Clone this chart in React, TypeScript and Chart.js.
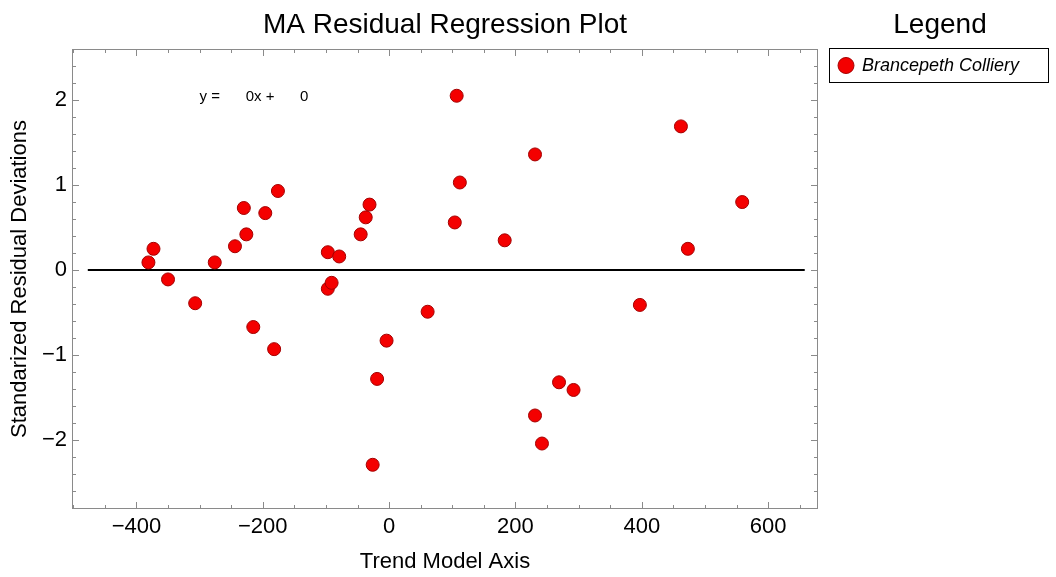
import React, { useEffect, useRef } from "react";
import { Chart, registerables } from "chart.js";

Chart.register(...registerables);

// Trend model axis position of each observation
const trendX = [
  -381, -373, -350, -307, -276, -244, -230, -226, -215, -196, -182, -176,
  -97, -97, -91, -79, -45, -37, -31, -26, -19, -4, 61,
  104, 107, 112, 183, 231, 231, 242, 269, 292, 397, 462, 473, 559,
];

// Standardized residual for each observation
const residualY = [
  0.09, 0.25, -0.11, -0.39, 0.09, 0.28, 0.73, 0.42, -0.67, 0.67, -0.93, 0.93,
  0.21, -0.22, -0.15, 0.16, 0.42, 0.62, 0.77, -2.29, -1.28, -0.83, -0.49,
  0.56, 2.05, 1.03, 0.35, 1.36, -1.71, -2.04, -1.32, -1.41, -0.41, 1.69, 0.25, 0.8,
];

// Fitted regression line (slope 0, intercept 0)
const fitLineX = [-477, 658];
const fitLineY = [0, 0];

const xTicks = [-400, -200, 0, 200, 400, 600];
const yTicks = [-2, -1, 0, 1, 2];
const xMinorStep = 50;
const yMinorStep = 0.2;

const seriesName = "Brancepeth Colliery";
const chartTitle = "MA Residual Regression Plot";
const legendTitle = "Legend";
const xTitle = "Trend Model Axis";
const yTitle = "Standarized Residual Deviations";
const equationParts = ["y =", "0x +", "0"];
const equationX = [-300, -227, -141];
const equationY = 2.035;

const FONT = "'Liberation Sans', Arial, Helvetica, sans-serif";
const FRAME = "#8a8a8a";
const POINT_FILL = "#f40000";
const POINT_EDGE = "#a30000";

const fmt = (v: number) => (v < 0 ? "\u2212" + Math.abs(v) : String(v));

const framePlugin = {
  id: "frameAndDecor",
  afterDraw(chart: any) {
    const { ctx, chartArea: a, scales } = chart;
    const xs = scales.x;
    const ys = scales.y;
    ctx.save();

    // frame
    ctx.strokeStyle = FRAME;
    ctx.lineWidth = 1;
    ctx.strokeRect(a.left + 0.5, a.top + 0.5, a.right - a.left - 1, a.bottom - a.top - 1);

    // inward ticks on all four sides
    const major = 7;
    const minor = 4;
    ctx.beginPath();
    const xStart = Math.ceil(xs.min / xMinorStep) * xMinorStep;
    for (let v = xStart; v <= xs.max + 1e-9; v += xMinorStep) {
      const isMajor = xTicks.includes(Math.round(v));
      const len = isMajor ? major : minor;
      const px = Math.round(xs.getPixelForValue(v)) + 0.5;
      ctx.moveTo(px, a.bottom);
      ctx.lineTo(px, a.bottom - len);
      ctx.moveTo(px, a.top);
      ctx.lineTo(px, a.top + len);
    }
    const yStart = Math.ceil(ys.min / yMinorStep - 1e-9) * yMinorStep;
    for (let v = yStart; v <= ys.max + 1e-9; v += yMinorStep) {
      const r = Math.round(v * 10) / 10;
      const isMajor = yTicks.some((t) => Math.abs(t - r) < 1e-6);
      const len = isMajor ? major : minor;
      const py = Math.round(ys.getPixelForValue(r)) + 0.5;
      ctx.moveTo(a.left, py);
      ctx.lineTo(a.left + len, py);
      ctx.moveTo(a.right, py);
      ctx.lineTo(a.right - len, py);
    }
    ctx.stroke();

    // regression equation
    ctx.fillStyle = "#000";
    ctx.font = `15px ${FONT}`;
    ctx.textBaseline = "middle";
    ctx.textAlign = "left";
    equationParts.forEach((t, i) => {
      ctx.fillText(t, xs.getPixelForValue(equationX[i]), ys.getPixelForValue(equationY));
    });

    // title
    ctx.font = `28px ${FONT}`;
    ctx.textAlign = "center";
    ctx.fillText(chartTitle, (a.left + a.right) / 2, 25);

    // legend
    ctx.fillText(legendTitle, 940, 25);
    ctx.strokeStyle = "#000";
    ctx.lineWidth = 1;
    ctx.strokeRect(829.5, 48.5, 219, 34);
    ctx.beginPath();
    ctx.arc(846, 65.5, 8, 0, Math.PI * 2);
    ctx.fillStyle = POINT_FILL;
    ctx.fill();
    ctx.strokeStyle = POINT_EDGE;
    ctx.stroke();
    ctx.fillStyle = "#000";
    ctx.font = `italic 18px ${FONT}`;
    ctx.textAlign = "left";
    ctx.fillText(seriesName, 862, 66);

    ctx.restore();
  },
};

export default function App() {
  const ref = useRef<HTMLCanvasElement | null>(null);

  useEffect(() => {
    if (!ref.current) return;
    const chart = new Chart(ref.current, {
      type: "scatter",
      data: {
        datasets: [
          {
            label: seriesName,
            data: trendX.map((x, i) => ({ x, y: residualY[i] })),
            backgroundColor: POINT_FILL,
            borderColor: POINT_EDGE,
            borderWidth: 1,
            pointRadius: 6.5,
          },
          {
            type: "line",
            label: "fit",
            data: fitLineX.map((x, i) => ({ x, y: fitLineY[i] })),
            borderColor: "#000",
            borderWidth: 2,
            pointRadius: 0,
            fill: false,
          },
        ],
      } as any,
      options: {
        responsive: false,
        animation: false,
        devicePixelRatio: 1,
        layout: { padding: { top: 49, right: 238, left: 0, bottom: 0 } },
        plugins: {
          legend: { display: false },
          tooltip: { enabled: false },
          title: { display: false },
        },
        scales: {
          x: {
            type: "linear",
            min: -502,
            max: 679,
            grid: { display: false, drawTicks: false },
            border: { display: false },
            afterBuildTicks: (s: any) => {
              s.ticks = xTicks.map((v) => ({ value: v }));
            },
            afterFit: (s: any) => {
              s.height = 68;
            },
            ticks: {
              padding: 5,
              color: "#000",
              font: { family: FONT, size: 22 },
              callback: (v: any) => fmt(Number(v)),
            },
            title: {
              display: true,
              text: xTitle,
              color: "#000",
              font: { family: FONT, size: 22 },
              padding: { top: 0, bottom: 2 },
            },
          },
          y: {
            type: "linear",
            min: -2.81,
            max: 2.6,
            grid: { display: false, drawTicks: false },
            border: { display: false },
            afterBuildTicks: (s: any) => {
              s.ticks = yTicks.map((v) => ({ value: v }));
            },
            afterFit: (s: any) => {
              s.width = 72;
            },
            ticks: {
              padding: 5,
              color: "#000",
              font: { family: FONT, size: 22 },
              callback: (v: any) => fmt(Number(v)),
            },
            title: {
              display: true,
              text: yTitle,
              color: "#000",
              font: { family: FONT, size: 22 },
              padding: { top: 7, bottom: 0 },
            },
          },
        },
      } as any,
      plugins: [framePlugin],
    });
    return () => chart.destroy();
  }, []);

  return (
    <div style={{ position: "fixed", left: 0, top: 0, width: 1056, height: 577, background: "#fff" }}>
      <canvas ref={ref} width={1056} height={577} />
    </div>
  );
}
